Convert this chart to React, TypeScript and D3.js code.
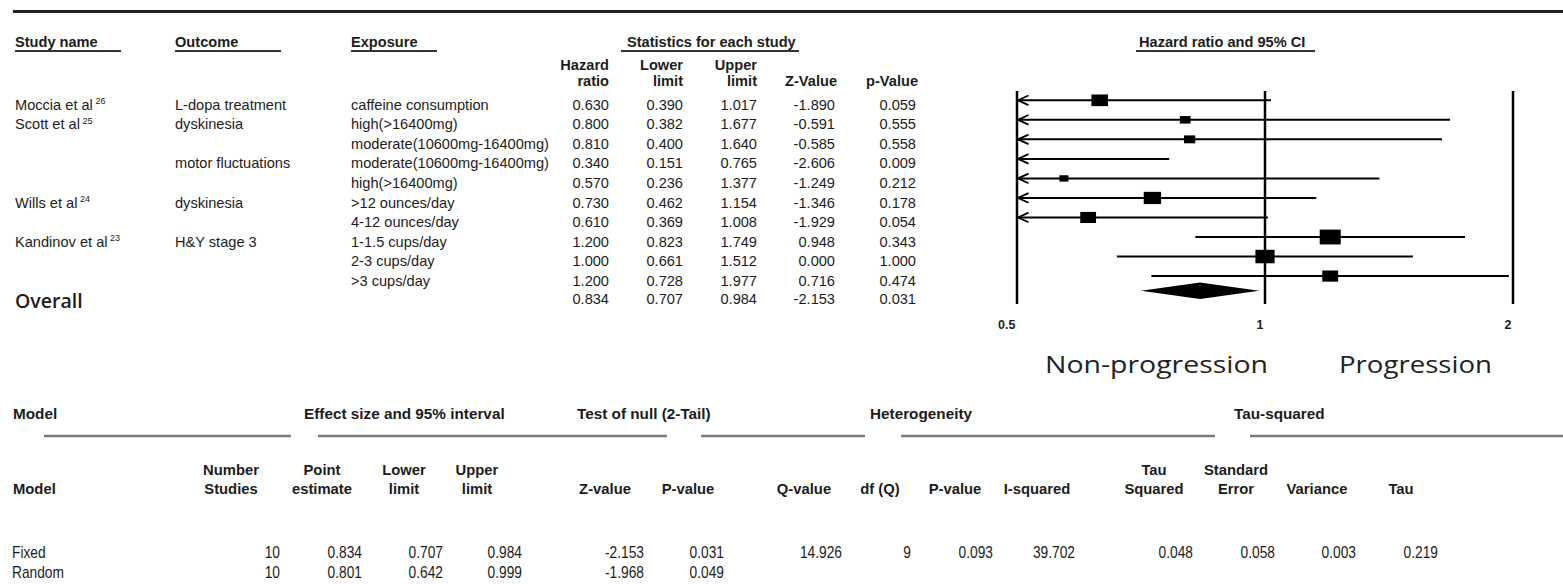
import React from "react";
import * as d3 from "d3";

// ---------- Data ----------
const studyNames = ["Moccia et al", "Scott et al", "", "", "", "Wills et al", "", "Kandinov et al", "", ""];
const studyRefs = ["26", "25", "", "", "", "24", "", "23", "", ""];
const outcomes = ["L-dopa treatment", "dyskinesia", "", "motor fluctuations", "", "dyskinesia", "", "H&Y stage 3", "", ""];
const exposures = [
  "caffeine consumption",
  "high(>16400mg)",
  "moderate(10600mg-16400mg)",
  "moderate(10600mg-16400mg)",
  "high(>16400mg)",
  ">12 ounces/day",
  "4-12 ounces/day",
  "1-1.5 cups/day",
  "2-3 cups/day",
  ">3 cups/day",
];
const hazardRatios = [0.63, 0.8, 0.81, 0.34, 0.57, 0.73, 0.61, 1.2, 1.0, 1.2];
const lowerLimits = [0.39, 0.382, 0.4, 0.151, 0.236, 0.462, 0.369, 0.823, 0.661, 0.728];
const upperLimits = [1.017, 1.677, 1.64, 0.765, 1.377, 1.154, 1.008, 1.749, 1.512, 1.977];
const zValues = [-1.89, -0.591, -0.585, -2.606, -1.249, -1.346, -1.929, 0.948, 0.0, 0.716];
const pValues = [0.059, 0.555, 0.558, 0.009, 0.212, 0.178, 0.054, 0.343, 1.0, 0.474];

const overallHR = 0.834;
const overallLower = 0.707;
const overallUpper = 0.984;
const overallZ = -2.153;
const overallP = 0.031;

const axisTicks = [0.5, 1, 2];
const axisTickLabels = ["0.5", "1", "2"];

// bottom summary table
const modelNames = ["Fixed", "Random"];
const numberStudies = [10, 10];
const pointEstimates = [0.834, 0.801];
const modelLower = [0.707, 0.642];
const modelUpper = [0.984, 0.999];
const modelZ = [-2.153, -1.968];
const modelP = [0.031, 0.049];
const qValue = 14.926;
const dfQ = 9;
const heteroP = 0.093;
const iSquared = 39.702;
const tauSquared = 0.048;
const tauSE = 0.058;
const tauVariance = 0.003;
const tau = 0.219;

// ---------- Layout ----------
const W = 1563;
const H = 584;
const fmt = d3.format(".3f");
const f3 = (v: number) => fmt(v).replace("\u2212", "-");

const x = d3.scaleLog().domain([0.5, 2]).range([1017, 1513]);
const rowY = (i: number) => 100.3 + 19.53 * i;

const weights = lowerLimits.map((l, i) => {
  const se = (Math.log(upperLimits[i]) - Math.log(l)) / 3.92;
  return 1 / (se * se);
});
const boxH = d3.scaleSqrt().domain([0, 1]).range([0, 2.85]);

const TXT = "#1c1c1c";
const SANS = "'Liberation Sans', Arial, sans-serif";

export default function App() {
  const numCols = [
    { right: 609, vals: hazardRatios.map(f3), ov: f3(overallHR) },
    { right: 683, vals: lowerLimits.map(f3), ov: f3(overallLower) },
    { right: 757, vals: upperLimits.map(f3), ov: f3(overallUpper) },
    { right: 835, vals: zValues.map(f3), ov: f3(overallZ) },
    { right: 916, vals: pValues.map(f3), ov: f3(overallP) },
  ];
  const colHeads = [
    { right: 609, l1: "Hazard", l2: "ratio" },
    { right: 683, l1: "Lower", l2: "limit" },
    { right: 757, l1: "Upper", l2: "limit" },
    { right: 837, l1: "", l2: "Z-Value" },
    { right: 918, l1: "", l2: "p-Value" },
  ];

  const topHeads = [
    { x: 15, t: "Study name", u: [15, 121] },
    { x: 175, t: "Outcome", u: [175, 281] },
    { x: 351, t: "Exposure", u: [351, 437] },
    { x: 627, t: "Statistics for each study", u: [621, 799] },
    { x: 1139, t: "Hazard ratio and 95% CI", u: [1136, 1315] },
  ];

  const bottomLines = [
    [44, 291],
    [318, 667],
    [701, 865],
    [901, 1215],
    [1250, 1563],
  ];
  const bottomHead1 = [
    { x: 13, t: "Model" },
    { x: 304, t: "Effect size and 95% interval" },
    { x: 577, t: "Test of null (2-Tail)" },
    { x: 870, t: "Heterogeneity" },
    { x: 1234, t: "Tau-squared" },
  ];
  const bottomHead2: { cx: number; l1: string; l2: string }[] = [
    { cx: 231, l1: "Number", l2: "Studies" },
    { cx: 322, l1: "Point", l2: "estimate" },
    { cx: 404, l1: "Lower", l2: "limit" },
    { cx: 477, l1: "Upper", l2: "limit" },
    { cx: 605, l1: "", l2: "Z-value" },
    { cx: 688, l1: "", l2: "P-value" },
    { cx: 804, l1: "", l2: "Q-value" },
    { cx: 880, l1: "", l2: "df (Q)" },
    { cx: 955, l1: "", l2: "P-value" },
    { cx: 1037, l1: "", l2: "I-squared" },
    { cx: 1154, l1: "Tau", l2: "Squared" },
    { cx: 1236, l1: "Standard", l2: "Error" },
    { cx: 1317, l1: "", l2: "Variance" },
    { cx: 1401, l1: "", l2: "Tau" },
  ];
  const bottomVals: { right: number; vals: string[] }[] = [
    { right: 280, vals: numberStudies.map(String) },
    { right: 362, vals: pointEstimates.map(f3) },
    { right: 443, vals: modelLower.map(f3) },
    { right: 522, vals: modelUpper.map(f3) },
    { right: 644, vals: modelZ.map(f3) },
    { right: 724, vals: modelP.map(f3) },
    { right: 842, vals: [f3(qValue), ""] },
    { right: 911, vals: [String(dfQ), ""] },
    { right: 993, vals: [f3(heteroP), ""] },
    { right: 1075, vals: [f3(iSquared), ""] },
    { right: 1193, vals: [f3(tauSquared), ""] },
    { right: 1275, vals: [f3(tauSE), ""] },
    { right: 1356, vals: [f3(tauVariance), ""] },
    { right: 1438, vals: [f3(tau), ""] },
  ];

  const yTop = 91;
  const yBot = 304;
  const diamondY = rowY(10) - 4.8;
  const narrow = 0.86;

  return (
    <svg
      width={W}
      height={H}
      style={{ position: "absolute", left: 0, top: 0, background: "#fff" }}
      fontFamily={SANS}
    >
      <rect width={W} height={H} fill="#fff" />
      {/* top rule */}
      <line x1={13} x2={W} y1={11.5} y2={11.5} stroke="#222" strokeWidth={3} />

      {/* header row */}
      {topHeads.map((h, i) => (
        <g key={i}>
          <text x={h.x} y={47} fontSize={14.6} fontWeight="bold" fill={TXT}>
            {h.t}
          </text>
          <line x1={h.u[0]} x2={h.u[1]} y1={51} y2={51} stroke="#333" strokeWidth={2} />
        </g>
      ))}
      {colHeads.map((c, i) => (
        <g key={i} fontSize={14.6} fontWeight="bold" fill={TXT} textAnchor="end">
          {c.l1 && (
            <text x={c.right} y={70}>
              {c.l1}
            </text>
          )}
          <text x={c.right} y={85.5}>
            {c.l2}
          </text>
        </g>
      ))}

      {/* study rows */}
      {hazardRatios.map((_, i) => {
        const by = rowY(i) + 9.6;
        return (
          <g key={i} fontSize={14.6} fill={TXT}>
            {studyNames[i] && (
              <text x={15} y={by}>
                {studyNames[i]}
                <tspan fontSize={9} dy={-5.5}>
                  {" " + studyRefs[i]}
                </tspan>
              </text>
            )}
            {outcomes[i] && (
              <text x={175} y={by}>
                {outcomes[i]}
              </text>
            )}
            <text x={351} y={by}>
              {exposures[i]}
            </text>
            {numCols.map((c, j) => (
              <text key={j} x={c.right} y={by} textAnchor="end">
                {c.vals[i]}
              </text>
            ))}
          </g>
        );
      })}
      {/* overall row */}
      <text x={15} y={307.5} fontFamily="'Open Sans', sans-serif" fontWeight={600} fontSize={19.5} fill={TXT}>
        Overall
      </text>
      {numCols.map((c, j) => (
        <text key={j} x={c.right} y={rowY(10) + 8.6} textAnchor="end" fontSize={14.6} fill={TXT}>
          {c.ov}
        </text>
      ))}

      {/* forest plot axes */}
      {axisTicks.map((t, i) => (
        <g key={i}>
          <line x1={x(t)} x2={x(t)} y1={yTop} y2={yBot} stroke="#000" strokeWidth={2.5} />
          <text x={x(t) - 1.5} y={328.5} textAnchor="end" fontSize={12.5} fontWeight="bold" fill={TXT}>
            {axisTickLabels[i]}
          </text>
        </g>
      ))}

      {/* CI lines and boxes */}
      {hazardRatios.map((hr, i) => {
        const y = rowY(i);
        const lo = Math.max(lowerLimits[i], 0.5);
        const hi = Math.min(upperLimits[i], 2);
        const x0 = x(lo);
        const x1 = x(hi);
        const h = boxH(weights[i]);
        const w = h * 1.42;
        return (
          <g key={i}>
            <line x1={x0} x2={x1} y1={y} y2={y} stroke="#000" strokeWidth={2} />
            {lowerLimits[i] < 0.5 && (
              <path
                d={`M${x0 + 11.5},${y - 4.8} L${x0 + 1},${y} L${x0 + 11.5},${y + 4.8}`}
                fill="none"
                stroke="#000"
                strokeWidth={1.8}
              />
            )}
            {hr >= 0.5 && hr <= 2 && <rect x={x(hr) - w / 2} y={y - h / 2} width={w} height={h} fill="#000" />}
          </g>
        );
      })}
      {/* diamond */}
      <path
        d={`M${x(overallLower)},${diamondY} L${x(overallHR)},${diamondY - 8.3} L${x(overallUpper)},${diamondY} L${x(overallHR)},${diamondY + 8.3} Z`}
        fill="#000"
      />

      {/* direction labels */}
      <text
        x={1045}
        y={373}
        fontFamily="'Open Sans', sans-serif"
        fontSize={24}
        fill="#222"
        textLength={223}
        lengthAdjust="spacingAndGlyphs"
      >
        Non-progression
      </text>
      <text
        x={1339}
        y={373}
        fontFamily="'Open Sans', sans-serif"
        fontSize={24}
        fill="#222"
        textLength={153}
        lengthAdjust="spacingAndGlyphs"
      >
        Progression
      </text>

      {/* bottom summary table */}
      {bottomHead1.map((h, i) => (
        <text key={i} x={h.x} y={419} fontSize={15.3} fontWeight="bold" fill={TXT}>
          {h.t}
        </text>
      ))}
      {bottomLines.map((l, i) => (
        <line key={i} x1={l[0]} x2={l[1]} y1={436} y2={436} stroke="#7a7a7a" strokeWidth={2.5} />
      ))}
      <text x={13} y={494} fontSize={14.8} fontWeight="bold" fill={TXT}>
        Model
      </text>
      {bottomHead2.map((h, i) => (
        <g key={i} fontSize={14.8} fontWeight="bold" fill={TXT} textAnchor="middle">
          {h.l1 && (
            <text x={h.cx} y={475}>
              {h.l1}
            </text>
          )}
          <text x={h.cx} y={494}>
            {h.l2}
          </text>
        </g>
      ))}
      {modelNames.map((m, r) => {
        const by = 557.5 + r * 20;
        return (
          <g key={r} fontSize={16} fill={TXT}>
            <text transform={`translate(12,${by}) scale(${narrow},1)`}>{m}</text>
            {bottomVals.map((c, j) =>
              c.vals[r] ? (
                <text key={j} transform={`translate(${c.right},${by}) scale(${narrow},1)`} textAnchor="end">
                  {c.vals[r]}
                </text>
              ) : null
            )}
          </g>
        );
      })}
    </svg>
  );
}
